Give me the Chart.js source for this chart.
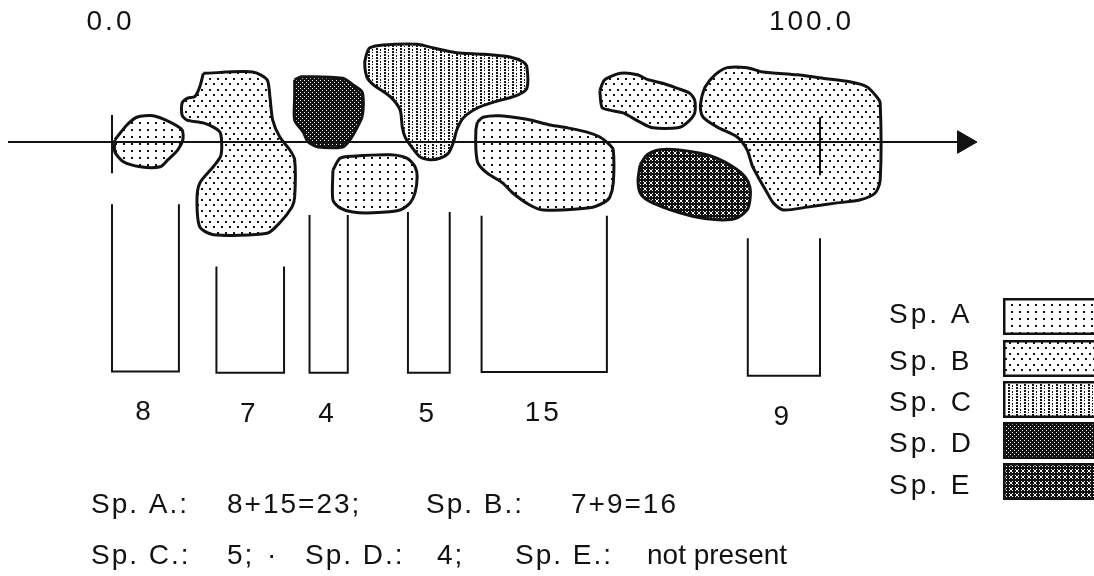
<!DOCTYPE html>
<html><head><meta charset="utf-8">
<script src="https://cdn.jsdelivr.net/npm/chart.js@4.4.1/dist/chart.umd.min.js"></script>
<style>html,body{margin:0;padding:0;background:#fff;}canvas{display:block;}</style>
</head><body>
<canvas id="c" width="1094" height="576"></canvas>
<script>
// ---- data (transect units, 0..100) ----
const transectTicks = [0, 100];
const transectTickLabels = ['0.0', '100.0'];
const species = ['Sp. A', 'Sp. B', 'Sp. C', 'Sp. D', 'Sp. E'];

const interceptLengths = [8, 7, 4, 5, 15, 9];
const interceptStart = [0.0, 14.75, 27.9, 41.8, 52.2, 89.8];
const interceptEnd = [9.45, 24.3, 33.3, 47.7, 69.9, 100];
const bracketTop = [-8.8, -17.6, -10.3, -9.9, -10.4, -13.6];
const bracketBottom = [-32.4, -32.6, -32.6, -32.6, -32.5, -33.0];

// species index of each patch (0=A ... 4=E)
const patchSpecies = [0, 1, 3, 0, 2, 0, 1, 4, 1];
const patch1 = [[0.4,0.3],[2.1,2.4],[3.5,3.5],[5.8,3.7],[8.2,2.8],[9.9,1.7],[10.0,0.3],[9.3,-1.1],[7.9,-2.5],[6.8,-3.5],[4.0,-3.5],[1.6,-2.8],[0.4,-1.4]];
const patch2 = [[12.9,9.7],[19.9,9.9],[21.9,8.8],[22.3,6.4],[22.7,3.1],[23.7,0.7],[25.1,-1.1],[25.8,-2.5],[25.8,-7.8],[25.4,-9.2],[23.7,-11.4],[21.9,-12.9],[14.3,-13.1],[12.4,-12.0],[12.0,-8.2],[12.4,-5.8],[14.3,-3.5],[15.3,-2.1],[15.5,-0.7],[15.3,1.3],[14.5,2.0],[12.9,2.7],[10.6,3.1],[9.9,3.8],[9.9,5.5],[10.7,6.2],[11.7,6.4],[12.4,7.8]];
const patch3 = [[25.8,8.8],[26.8,9.2],[32.6,9.0],[34.0,8.1],[35.3,7.1],[35.5,5.5],[35.3,3.5],[34.6,2.0],[33.6,0.3],[32.6,-0.7],[29.1,-0.7],[27.7,0.0],[27.0,1.4],[25.8,3.1],[25.8,6.4]];
const patch4 = [[31.2,-4.0],[32.2,-2.3],[34.0,-2.0],[39.3,-1.8],[41.7,-2.3],[42.8,-3.5],[43.1,-4.9],[42.8,-7.2],[42.1,-8.6],[40.7,-9.6],[36.9,-10.0],[34.0,-9.9],[32.2,-9.3],[31.2,-8.2]];
const patch5 = [[36.0,12.6],[36.4,13.3],[38.3,13.7],[43.1,13.8],[44.9,13.4],[48.7,12.6],[52.4,12.4],[56.2,12.0],[58.1,11.3],[58.6,10.6],[58.6,7.6],[57.2,6.6],[53.8,5.6],[51.6,4.8],[49.6,3.4],[48.7,1.7],[48.2,-0.1],[47.5,-1.6],[46.3,-2.3],[44.9,-2.5],[43.5,-2.1],[42.4,-0.8],[41.4,0.7],[41.0,2.1],[40.7,4.5],[39.3,6.4],[36.9,8.1],[36.0,9.2],[35.7,11.2]];
const patch6 = [[51.6,2.8],[52.4,3.5],[54.8,3.7],[58.6,3.2],[61.9,2.4],[64.3,2.0],[67.1,1.4],[68.9,0.7],[70.3,-0.4],[70.8,-1.1],[70.8,-5.8],[70.3,-7.8],[69.4,-8.6],[67.5,-9.3],[60.9,-9.6],[59.0,-8.9],[56.6,-7.2],[55.2,-5.8],[53.0,-4.4],[51.7,-3.0],[51.4,-1.1],[51.4,1.7]];
const patch7 = [[68.9,7.3],[69.6,8.8],[71.8,9.7],[74.2,9.5],[75.7,8.8],[77.8,8.3],[79.8,7.6],[81.6,6.9],[82.3,5.9],[82.3,4.1],[81.2,2.7],[79.9,2.0],[76.4,2.0],[74.6,2.8],[72.2,4.1],[70.3,4.5],[69.2,4.9]];
const patch8 = [[74.6,-3.2],[75.6,-1.8],[77.4,-1.1],[79.8,-1.1],[83.1,-1.6],[85.5,-2.3],[87.7,-3.5],[89.4,-4.9],[90.1,-6.4],[90.1,-8.2],[89.7,-9.6],[88.3,-10.7],[86.3,-11.0],[83.1,-10.7],[80.2,-10.0],[77.8,-9.2],[75.6,-8.2],[74.6,-7.2],[74.3,-5.4]];
const patch9 = [[83.3,6.4],[83.8,7.8],[85.2,9.5],[86.9,10.5],[89.7,10.5],[91.9,9.9],[96.8,9.5],[100.4,9.0],[104.2,8.5],[106.6,7.8],[108.0,6.4],[108.5,5.5],[108.5,-5.4],[107.8,-7.2],[105.6,-8.2],[102.4,-8.6],[98.2,-9.2],[94.8,-9.6],[93.4,-8.6],[92.5,-7.1],[90.5,-3.5],[89.7,-1.1],[88.3,0.7],[85.5,2.1],[83.5,3.5],[83.1,4.9]];
const patches = [patch1, patch2, patch3, patch4, patch5, patch6, patch7, patch8, patch9];

const summaryLine1 = ['Sp. A.:', '8+15=23;', 'Sp. B.:', '7+9=16'];
const summaryLine2 = ['Sp. C.:', '5;', '·', 'Sp. D.:', '4;', 'Sp. E.:', 'not present'];

// ---- layout ----
const W = 1094, H = 576, PX = 7.08, X0 = 112, Y0 = 142;
const FONT = '"Liberation Sans", Arial, Helvetica, sans-serif';
const INK = '#121212';

function tile(w, h, bg, fg, cells) {
  const c = document.createElement('canvas'); c.width = w; c.height = h;
  const g = c.getContext('2d'); g.fillStyle = bg; g.fillRect(0, 0, w, h);
  g.fillStyle = fg; cells.forEach(([x, y, cw, ch]) => g.fillRect(x, y, cw, ch));
  return document.getElementById('c').getContext('2d').createPattern(c, 'repeat');
}
const patterns = [
  tile(8, 7, '#fff', INK, [[3,3,2,2]]),
  tile(8, 11, '#fff', INK, [[1,1,2,2],[5,6,2,2]]),
  tile(8, 6, '#fff', INK, [[0,0,2,2],[0,3,2,2],[4,1,1,2],[4,4,1,1]]),
  tile(4, 4, INK, '#fff', [[0,0,1,1],[2,2,1,1]]),
  tile(6, 6, INK, '#fff', [[1,1,1,1],[4,1,1,1],[1,4,1,1],[4,4,1,1],[2,2,2,2]])
];

const toPts = arr => arr.map(([x, y]) => ({x, y}));
const datasets = [];
// transect axis with arrow
datasets.push({data: [{x: (8 - X0) / PX, y: 0}, {x: (964 - X0) / PX, y: 0}], borderColor: INK, borderWidth: 2,
  pointRadius: [0, 13], pointStyle: 'triangle', rotation: 90, pointBackgroundColor: INK, pointBorderColor: INK, pointBorderWidth: 1, order: 0});
// end ticks
transectTicks.forEach((v, i) => datasets.push({data: [{x: v, y: i ? 3.5 : 3.8}, {x: v, y: i ? -4.7 : -4.4}],
  borderColor: INK, borderWidth: 2, pointRadius: 0, order: 0}));
// intercept brackets
interceptLengths.forEach((v, i) => datasets.push({
  data: [{x: interceptStart[i], y: bracketTop[i]}, {x: interceptStart[i], y: bracketBottom[i]},
         {x: interceptEnd[i], y: bracketBottom[i]}, {x: interceptEnd[i], y: bracketTop[i]}],
  borderColor: INK, borderWidth: 2, pointRadius: 0, order: 1}));
// patches
patches.forEach((p, i) => {
  const pts = toPts(p); pts.push({...pts[0]});
  datasets.push({data: pts, fill: 'shape', backgroundColor: patterns[patchSpecies[i]], borderColor: INK,
    borderWidth: 3, tension: 0.25, pointRadius: 0, order: 2, borderJoinStyle: 'round'});
});
datasets.forEach(d => { d.showLine = true; d.clip = false; d.pointHoverRadius = 0; });

const textPlugin = {
  id: 'transectText',
  afterDatasetsDraw(chart) {
    const {ctx, scales: {x, y}} = chart;
    ctx.save();
    ctx.fillStyle = INK;
    ctx.font = '28px ' + FONT;
    ctx.letterSpacing = '3px';
    ctx.textBaseline = 'alphabetic';
    ctx.textAlign = 'center';
    transectTicks.forEach((v, i) => ctx.fillText(transectTickLabels[i], x.getPixelForValue(v) + (i ? -8.5 : -1.5), 30));
    interceptLengths.forEach((v, i) => {
      const cx = (x.getPixelForValue(interceptStart[i]) + x.getPixelForValue(interceptEnd[i])) / 2;
      ctx.fillText(String(v), cx - 1, y.getPixelForValue(bracketBottom[i]) + 49);
    });
    // legend
    const textBase = [323, 370, 411, 452, 494], boxTop = [298, 340, 381, 422, 463];
    species.forEach((s, i) => {
      ctx.textAlign = 'left';
      ctx.fillStyle = INK;
      ctx.fillText(s, 889, textBase[i]);
      ctx.fillStyle = patterns[i];
      ctx.fillRect(1003, boxTop[i], 100, 37);
      ctx.lineWidth = 2.5; ctx.strokeStyle = INK;
      ctx.strokeRect(1004.25, boxTop[i] + 1.25, 100, 34.5);
    });
    // summary
    ctx.fillStyle = INK; ctx.textAlign = 'left';
    ctx.letterSpacing = '2px';
    const xs1 = [91, 227, 426, 571], xs2 = [91, 227, 267, 305, 437, 515, 647];
    summaryLine1.forEach((t, i) => ctx.fillText(t, xs1[i], 513));
    summaryLine2.forEach((t, i) => {
      ctx.letterSpacing = i === summaryLine2.length - 1 ? '0px' : '2px';
      ctx.fillText(t, xs2[i], 564);
    });
    ctx.restore();
  }
};

new Chart(document.getElementById('c'), {
  type: 'scatter',
  data: {datasets},
  options: {
    responsive: false, animation: false, events: [],
    layout: {padding: 0, autoPadding: false},
    plugins: {legend: {display: false}, tooltip: {enabled: false}},
    scales: {
      x: {type: 'linear', display: false, min: -X0 / PX, max: (W - X0) / PX},
      y: {type: 'linear', display: false, min: -(H - Y0) / PX, max: Y0 / PX}
    }
  },
  plugins: [textPlugin]
});
</script>
</body></html>
